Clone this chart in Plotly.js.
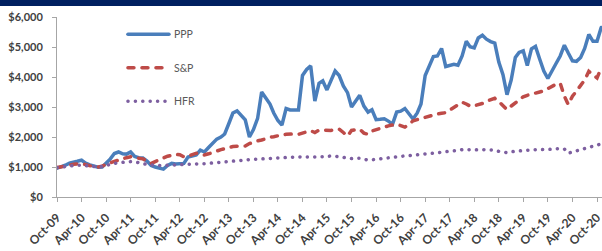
<!DOCTYPE html>
<html>
<head>
<meta charset="utf-8">
<script src="https://cdn.plot.ly/plotly-3.0.1.min.js"></script>
<style>
  html, body { margin: 0; padding: 0; background: #fff; overflow: hidden; }
  #bar { position: absolute; left: 0; top: 0; width: 602px; height: 6px; background: #002060; z-index: 5; }
  #chart { position: absolute; left: 0; top: 0; width: 602px; height: 251px; }
  #chart path.js-line { stroke-linecap: round; }
</style>
</head>
<body>
<div id="chart"></div>
<div id="bar"></div>
<script>
// Monthly observations, Oct-2009 .. Nov-2020 (134 months)
const firstMonth = [2009, 10];
const monthCount = 134;

const ppp = [
  960, 1000, 1060, 1130, 1150, 1190, 1230, 1130, 1070, 1030, 990, 1000, 1120,
  1270, 1450, 1500, 1440, 1430, 1500, 1350, 1310, 1300, 1200, 1050, 1000,
  970, 930, 1050, 1120, 1100, 1120, 1120, 1330, 1370, 1400, 1560, 1500,
  1650, 1800, 1930, 2000, 2100, 2450, 2800, 2870, 2700, 2570, 2000, 2250,
  2620, 3500, 3300, 3100, 2800, 2550, 2400, 2950, 2900, 2890, 2900, 4050,
  4250, 4370, 3200, 3790, 3870, 3570, 3880, 4200, 4050, 3700, 3480, 3000,
  3200, 3390, 3030, 2830, 2910, 2580, 2590, 2610, 2530, 2430, 2830, 2860,
  2950, 2780, 2600, 2800, 3100, 4050, 4380, 4680, 4700, 4950, 4350, 4380,
  4420, 4390, 4700, 5190, 5010, 4970, 5300, 5390, 5260, 5180, 5130, 4500,
  4080, 3410, 3900, 4650, 4820, 4870, 4380, 4940, 5020, 4600, 4200, 3950,
  4230, 4450, 4700, 5060, 4800, 4540, 4520, 4650, 4950, 5420, 5190, 5190, 5650
];

const sp = [
  980, 1000, 1030, 1060, 1090, 1110, 1120, 1080, 1040, 1010, 1000, 1030, 1090,
  1150, 1190, 1230, 1280, 1310, 1340, 1310, 1290, 1270, 1200, 1120, 1180,
  1250, 1300, 1360, 1390, 1420, 1410, 1340, 1360, 1420, 1460, 1430, 1400,
  1440, 1470, 1530, 1580, 1620, 1650, 1680, 1690, 1700, 1700, 1780, 1830,
  1870, 1900, 1950, 1990, 2010, 2050, 2070, 2090, 2100, 2100, 2090, 2130,
  2170, 2210, 2150, 2230, 2230, 2210, 2220, 2240, 2260, 2150, 2030, 2220,
  2250, 2260, 2130, 2090, 2200, 2250, 2290, 2340, 2370, 2400, 2420, 2380,
  2330, 2420, 2540, 2580, 2620, 2660, 2700, 2730, 2770, 2790, 2810, 2900,
  2980, 3070, 3160, 3100, 3030, 3040, 3070, 3120, 3190, 3250, 3290, 3180,
  3050, 2910, 3030, 3140, 3250, 3340, 3390, 3420, 3460, 3500, 3540, 3620,
  3700, 3760, 3790, 3360, 3080, 3360, 3530, 3700, 3900, 4190, 4080, 3970, 4300
];

const hfr = [
  980, 1000, 1020, 1040, 1050, 1060, 1060, 1040, 1020, 1000, 1000, 1020, 1060,
  1090, 1120, 1140, 1160, 1170, 1180, 1170, 1150, 1120, 1080, 1060, 1050,
  1050, 1050, 1060, 1070, 1070, 1070, 1070, 1080, 1090, 1100, 1110, 1110,
  1120, 1130, 1140, 1160, 1180, 1190, 1200, 1210, 1220, 1240, 1250, 1260,
  1270, 1280, 1290, 1290, 1300, 1310, 1310, 1320, 1330, 1340, 1340, 1330,
  1330, 1320, 1320, 1340, 1340, 1350, 1370, 1360, 1340, 1310, 1290, 1280,
  1290, 1290, 1260, 1230, 1240, 1260, 1280, 1290, 1300, 1320, 1340, 1350,
  1370, 1380, 1400, 1410, 1420, 1430, 1450, 1460, 1480, 1500, 1510, 1530,
  1540, 1550, 1580, 1580, 1570, 1560, 1570, 1580, 1580, 1580, 1560, 1520,
  1490, 1480, 1510, 1530, 1540, 1550, 1560, 1570, 1570, 1570, 1570, 1580,
  1590, 1610, 1610, 1600, 1460, 1500, 1560, 1590, 1630, 1670, 1700, 1730, 1770
];

const seriesNames = ['PPP', 'S&P', 'HFR'];
const yTicks = [0, 1000, 2000, 3000, 4000, 5000, 6000];
const yTickLabels = ['$0', '$1,000', '$2,000', '$3,000', '$4,000', '$5,000', '$6,000'];

// month dates (x categories)
const months = [];
for (let i = 0; i < monthCount; i++) {
  const y = firstMonth[0] + Math.floor((firstMonth[1] - 1 + i) / 12);
  const m = ((firstMonth[1] - 1 + i) % 12) + 1;
  months.push(y + '-' + String(m).padStart(2, '0') + '-01');
}

const axisGray = '#A6A6A6';
const textGray = '#404040';

const traces = [
  { x: months, y: ppp, name: seriesNames[0], type: 'scatter', mode: 'lines', legendgroup: 'a',
    line: { color: '#4A7EBB', width: 3.5 } },
  { x: months, y: sp, name: seriesNames[1], type: 'scatter', mode: 'lines', legendgroup: 'b',
    line: { color: '#BE4B48', width: 3.5, dash: '6px,8px' } },
  { x: months, y: hfr, name: seriesNames[2], type: 'scatter', mode: 'lines', legendgroup: 'c',
    line: { color: '#7D5FA0', width: 3.5, dash: '0.1px,7.3px' } }
];

const layout = {
  width: 602, height: 251,
  margin: { l: 57, r: 0, t: 17, b: 54, pad: 0 },
  paper_bgcolor: '#fff', plot_bgcolor: '#fff',
  font: { family: 'Lato, sans-serif', color: textGray },
  showlegend: true,
  legend: {
    x: 0.121, y: 0.985, xanchor: 'left', yanchor: 'top',
    bgcolor: 'rgba(0,0,0,0)', borderwidth: 0,
    font: { size: 10.5, color: '#595959', family: 'Lato, sans-serif' },
    traceorder: 'grouped', tracegroupgap: 14.5, itemwidth: 41
  },
  xaxis: {
    type: 'date',
    range: ['2009-09-30', '2020-11-07'],
    tick0: '2009-10-01', dtick: 'M6', tickformat: '%b-%y',
    tickangle: -45,
    ticks: 'outside', ticklen: 4, tickcolor: axisGray,
    ticklabelstandoff: 4, ticklabeloverflow: 'allow',
    showline: true, linecolor: axisGray, linewidth: 1,
    showgrid: false, zeroline: false,
    tickfont: { size: 12, color: textGray, family: 'Lato, sans-serif', weight: 'bold' }
  },
  yaxis: {
    range: [0, 6000],
    tickmode: 'array', tickvals: yTicks, ticktext: yTickLabels,
    ticks: 'outside', ticklen: 4, tickcolor: axisGray,
    ticklabelstandoff: 7,
    showline: true, linecolor: axisGray, linewidth: 1,
    showgrid: false, zeroline: false,
    tickfont: { size: 11, color: textGray, family: 'Lato, sans-serif', weight: 'bold' }
  }
};

Plotly.newPlot('chart', traces, layout, { staticPlot: true, displayModeBar: false });
</script>
</body>
</html>
